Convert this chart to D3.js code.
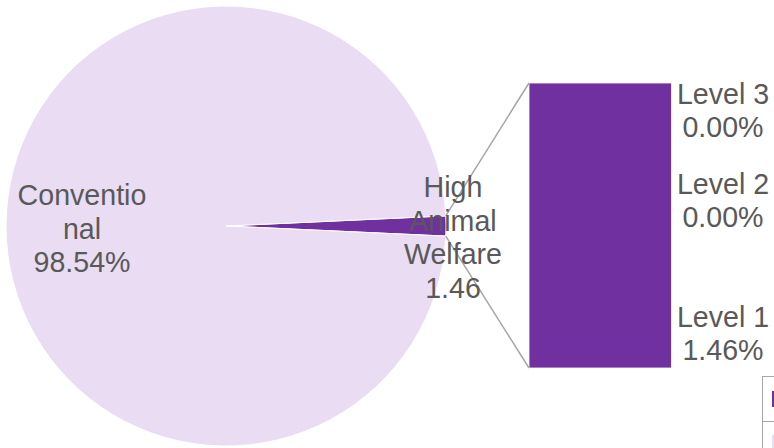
<!DOCTYPE html>
<html><head><meta charset="utf-8">
<script src="https://cdn.jsdelivr.net/npm/d3@7"></script>
<style>
html,body{margin:0;padding:0;background:#fff;}
svg{display:block;}
text{font-family:"Liberation Sans",Arial,sans-serif;fill:#595959;}
</style></head>
<body>
<svg id="c" width="774" height="448"></svg>
<script>
// ---- data ----
const pieCategories = ["High Animal Welfare", "Conventional"];
const pieValues = [1.46, 98.54];
const pieLabels = [["High", "Animal", "Welfare", "1.46"], ["Conventio", "nal", "98.54%"]];
const barCategories = ["Level 1", "Level 2", "Level 3"];
const barValues = [1.46, 0.00, 0.00];
const barValueLabels = ["1.46%", "0.00%", "0.00%"];

// ---- layout ----
const svg = d3.select("#c");
const cx = 226, cy = 226, R = 220;
const colors = {"High Animal Welfare": "#7030A0", "Conventional": "#EADCF2"};
const fontSize = 28.6, lineH = 33.5;

const hawFrac = pieValues[0] / d3.sum(pieValues);
const hawAngle = hawFrac * 2 * Math.PI;
const pie = d3.pie().sort(null).startAngle(Math.PI / 2 - hawAngle / 2).endAngle(Math.PI / 2 - hawAngle / 2 + 2 * Math.PI);
const arcs = pie(pieValues);
const arc = d3.arc().innerRadius(0).outerRadius(R);

const g = svg.append("g").attr("transform", `translate(${cx},${cy})`);
g.selectAll("path").data(arcs).join("path")
  .attr("d", arc)
  .attr("fill", (d, i) => colors[pieCategories[i]])
  .attr("stroke", "#fff").attr("stroke-width", 1);

// ---- bar ----
const barX0 = 529, barW = 142.5;
const y = d3.scaleLinear().domain([0, d3.sum(barValues)]).range([368, 83]);
const stack = [];
let acc = 0;
barValues.forEach((v, i) => { stack.push({c: barCategories[i], v, y0: acc, y1: acc + v}); acc += v; });
svg.selectAll("rect.seg").data(stack).join("rect").attr("class", "seg")
  .attr("x", barX0).attr("width", barW)
  .attr("y", d => y(d.y1)).attr("height", d => y(d.y0) - y(d.y1))
  .attr("fill", "#7030A0").attr("stroke", "#fff").attr("stroke-width", 0.8);

// ---- connector lines ----
const a0 = arcs[0].startAngle, a1 = arcs[0].endAngle;
const pt = a => [cx + R * Math.sin(a), cy - R * Math.cos(a)];
const p0 = pt(a0), p1 = pt(a1);
svg.append("line").attr("x1", p0[0]).attr("y1", p0[1]).attr("x2", barX0).attr("y2", y(d3.sum(barValues)))
  .attr("stroke", "#a6a6a6").attr("stroke-width", 1.5);
svg.append("line").attr("x1", p1[0]).attr("y1", p1[1]).attr("x2", barX0).attr("y2", y(0))
  .attr("stroke", "#a6a6a6").attr("stroke-width", 1.5);

// ---- pie labels ----
const pieLabelPos = [[453, 197], [82, 205]];
pieLabels.forEach((lines, i) => {
  const t = svg.append("text").attr("text-anchor", "middle").attr("font-size", fontSize);
  lines.forEach((s, j) => t.append("tspan").attr("x", pieLabelPos[i][0]).attr("y", pieLabelPos[i][1] + j * lineH).text(s));
});

// ---- bar labels ----
const barLabelBase = [327, 194, 104];
barCategories.forEach((c, i) => {
  const t = svg.append("text").attr("text-anchor", "middle").attr("font-size", fontSize);
  t.append("tspan").attr("x", 723).attr("y", barLabelBase[i]).text(c);
  t.append("tspan").attr("x", 723).attr("y", barLabelBase[i] + 33).text(barValueLabels[i]);
});

// ---- legend (partially visible) ----
const lg = svg.append("g");
lg.append("rect").attr("x", 762.5).attr("y", 376.5).attr("width", 60).attr("height", 100)
  .attr("fill", "#fff").attr("stroke", "#a6a6a6").attr("stroke-width", 1);
lg.append("line").attr("x1", 762.5).attr("x2", 822).attr("y1", 421.5).attr("y2", 421.5)
  .attr("stroke", "#a6a6a6").attr("stroke-width", 1);
lg.selectAll("rect.key").data(pieCategories).join("rect").attr("class", "key")
  .attr("x", 772).attr("y", (d, i) => 391 + i * 44).attr("width", 16).attr("height", 16)
  .attr("fill", d => colors[d]);
</script>
</body></html>
